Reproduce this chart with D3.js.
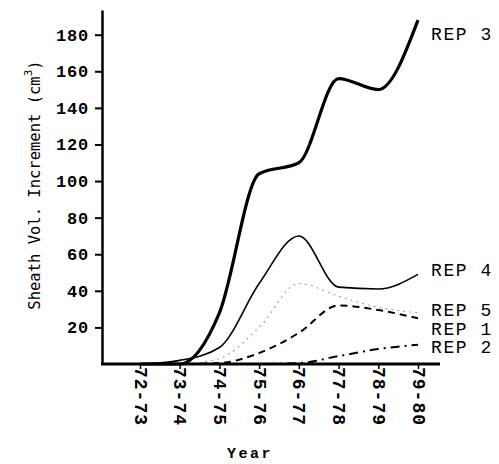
<!DOCTYPE html>
<html>
<head>
<meta charset="utf-8">
<script src="https://cdn.jsdelivr.net/npm/d3@7"></script>
<style>
  html, body { margin: 0; padding: 0; background: #fff; }
  svg { display: block; }
  .tick text { font-family: "Liberation Mono", "DejaVu Sans Mono", monospace; font-weight: bold; font-size: 17px; letter-spacing: 0.8px; fill: #000; }
  .x-axis .tick text { font-size: 18px; letter-spacing: 1px; }
</style>
</head>
<body>
<svg id="chart" width="499" height="464"></svg>
<script>
// Growing seasons along the x axis
const years = ["72-73", "73-74", "74-75", "75-76", "76-77", "77-78", "78-79", "79-80"];

// Cumulative sheath volume increment (cm^3) per replicate
const rep1 = [0, 0, 0.5, 6, 17, 32, 29.5, 25];
const rep2 = [0, 0, 0, 0, 0.5, 4.3, 8.2, 10.5];
const rep3 = [0, 0, 28, 104, 110, 156, 150, 188];
const rep4 = [0, 2, 9, 44, 70, 42, 41, 49];
const rep5 = [0, 0, 3, 20, 44, 37, 31, 28];

// Value axis ticks
const yTicks = [20, 40, 60, 80, 100, 120, 140, 160, 180];

const seriesNames = ["REP 1", "REP 2", "REP 3", "REP 4", "REP 5"];
const seriesValues = [rep1, rep2, rep3, rep4, rep5];

// Line appearance for each replicate
const lineStyle = {
  "REP 1": { width: 2, dash: "7,5", color: "#000" },
  "REP 2": { width: 2, dash: "9,5,2,5", color: "#000" },
  "REP 3": { width: 3.2, dash: null, color: "#000" },
  "REP 4": { width: 1.6, dash: null, color: "#000" },
  "REP 5": { width: 1.1, dash: "1,5", color: "#999" }
};

// End-of-line label placement (value-axis position of each label)
const labelAt = { "REP 3": 180.5, "REP 4": 51.5, "REP 5": 30, "REP 1": 19.5, "REP 2": 9.5 };

const svg = d3.select("#chart");

const x = d3.scalePoint().domain(years).range([140, 418]);
const y = d3.scaleLinear().domain([0, 193.5]).range([364, 10]);

const mono = "'Liberation Mono', 'DejaVu Sans Mono', monospace";

// Series lines
const line = d3.line()
  .x((d, i) => x(years[i]))
  .y(d => y(d))
  .curve(d3.curveMonotoneX);

seriesNames.forEach((name, k) => {
  const s = lineStyle[name];
  svg.append("path")
    .datum(seriesValues[k])
    .attr("d", line)
    .attr("fill", "none")
    .attr("stroke", s.color)
    .attr("stroke-width", s.width)
    .attr("stroke-linejoin", "round")
    .attr("stroke-linecap", name === "REP 5" ? "round" : "butt")
    .attr("stroke-dasharray", s.dash);
});

// Value axis
const yAxis = svg.append("g")
  .attr("transform", "translate(102,0)")
  .call(d3.axisLeft(y).tickValues(yTicks).tickSize(7).tickSizeOuter(0).tickPadding(6));
yAxis.select(".domain").attr("stroke", "#000").attr("stroke-width", 2.5);
yAxis.selectAll(".tick line").attr("stroke", "#000").attr("stroke-width", 2);

// Season axis
svg.append("line")
  .attr("x1", 101).attr("x2", 440)
  .attr("y1", y(0)).attr("y2", y(0))
  .attr("stroke", "#000").attr("stroke-width", 2.8);

const xAxis = svg.append("g")
  .attr("class", "x-axis")
  .attr("transform", `translate(0,${y(0)})`)
  .call(d3.axisBottom(x).tickSize(5).tickSizeOuter(0));
xAxis.select(".domain").remove();
xAxis.selectAll(".tick line").attr("stroke", "#000").attr("stroke-width", 1.5);
xAxis.selectAll(".tick text")
  .attr("transform", "rotate(90)")
  .attr("text-anchor", "start")
  .attr("x", 3)
  .attr("y", 0)
  .attr("dy", "0.33em");

// Axis titles
const yTitle = svg.append("text")
  .attr("transform", "translate(40,185) rotate(-90)")
  .attr("text-anchor", "middle")
  .attr("font-family", "'DejaVu Sans Mono', monospace")
  .attr("font-size", 15.5)
  .attr("fill", "#000");
yTitle.append("tspan").text("Sheath Vol. Increment (cm");
yTitle.append("tspan").attr("dy", -8).attr("font-size", 11).text("3");
yTitle.append("tspan").attr("dy", 8).text(")");

svg.append("text")
  .attr("x", 250).attr("y", 458)
  .attr("text-anchor", "middle")
  .attr("font-family", mono)
  .attr("font-weight", "bold")
  .attr("font-size", 15)
  .attr("letter-spacing", 2.5)
  .attr("fill", "#000")
  .text("Year");

// Replicate labels at the right end of the lines
seriesNames.forEach(name => {
  svg.append("text")
    .attr("x", 431)
    .attr("y", y(labelAt[name]))
    .attr("dy", "0.36em")
    .attr("font-family", mono)
    .attr("font-size", 18)
    .attr("letter-spacing", 1.6)
    .attr("fill", "#000")
    .text(name);
});
</script>
</body>
</html>
